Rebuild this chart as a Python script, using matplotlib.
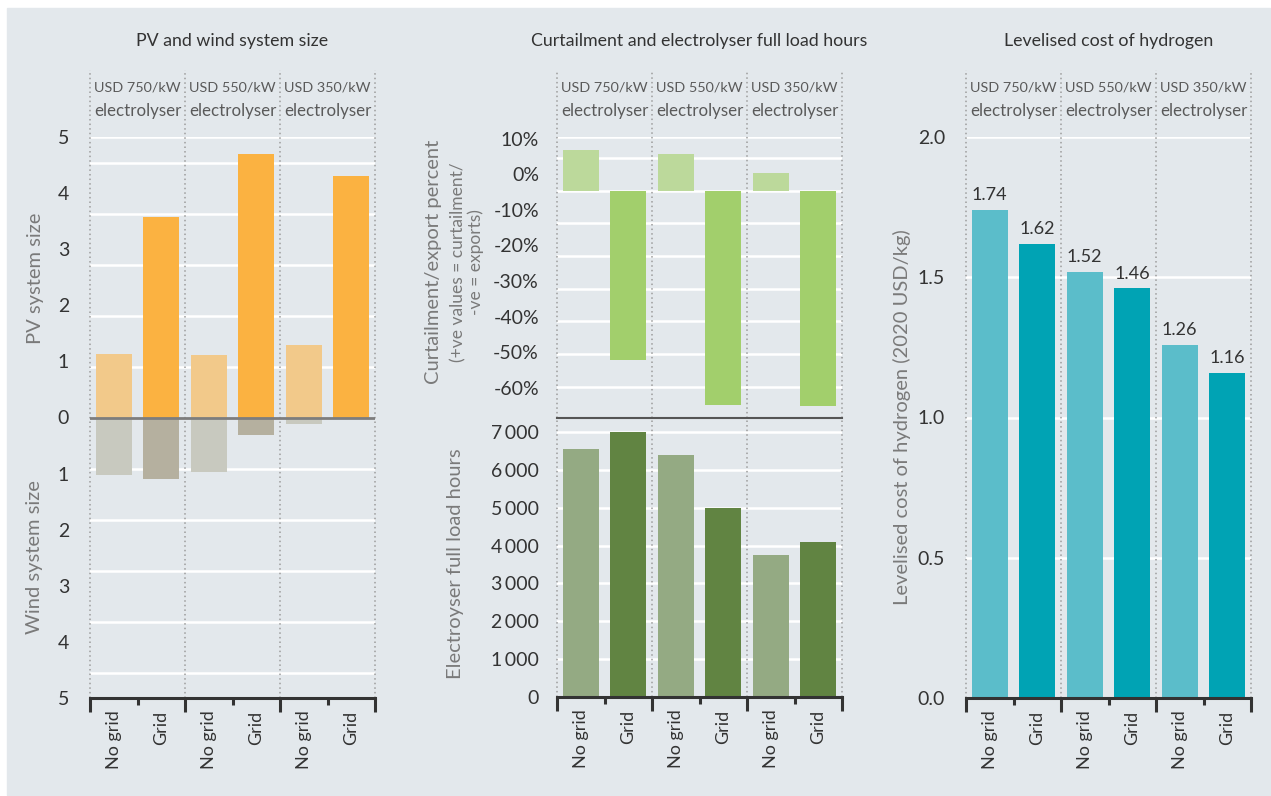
import matplotlib
matplotlib.use("Agg")
import matplotlib.pyplot as plt
import matplotlib.transforms as mtransforms
from matplotlib.patches import Rectangle
import numpy as np

plt.rcParams["font.family"] = ["Lato", "DejaVu Sans"]

# --- data ---
CASES = ["No grid", "Grid", "No grid", "Grid", "No grid", "Grid"]
GROUP_COSTS = ["USD 750/kW", "USD 550/kW", "USD 350/kW"]
GROUP_SUB = "electrolyser"

PV_SIZE = [1.14, 3.58, 1.11, 4.70, 1.29, 4.31]
WIND_SIZE = [1.02, 1.09, 0.98, 0.32, 0.11, 0.0]
CURTAILMENT = [12.5, -51.7, 11.2, -65.6, 5.4, -65.9]   # % (+ curtailment / - exports)
FULL_LOAD_HOURS = [6550, 7000, 6400, 5000, 3750, 4100]
LCOH = [1.74, 1.62, 1.52, 1.46, 1.26, 1.16]

CURT_TICKS = [10, 0, -10, -20, -30, -40, -50, -60]
FLH_TICKS = [0, 1000, 2000, 3000, 4000, 5000, 6000, 7000]
LCOH_TICKS = [0.0, 0.5, 1.0, 1.5, 2.0]

# --- style ---
W, H = 1271, 796
BG = "#e3e8ec"
DARK = "#333333"
GREY_LABEL = "#7a7a7a"
HEAD = "#5a5a5a"
PV_C = ["#f2c98a", "#fbb241"]
WIND_C = ["#c8c9bf", "#b5b09f"]
CURT_C = ["#bcd99b", "#a2cf6c"]
FLH_C = ["#94aa83", "#618442"]
LCOH_C = ["#5bbdca", "#00a3b4"]
BAR_W = 0.76
X = np.arange(len(CASES))
GROUP_BOUNDS = [-0.5, 1.5, 3.5, 5.5]
SLOT_BOUNDS = [0.5, 2.5, 4.5]
TICK_FS = 14
LABEL_FS = 14.5

fig = plt.figure(figsize=(W / 100, H / 100), dpi=100, facecolor="white")
fig.patches.append(Rectangle((7 / W, 1 - 795 / H), 1263 / W, 787 / H,
                             transform=fig.transFigure, color=BG, zorder=-5))


def _axes(x0, y0, x1, y1):
    ax = fig.add_axes([x0 / W, 1 - y1 / H, (x1 - x0) / W, (y1 - y0) / H])
    ax.set_facecolor("none")
    for s in ax.spines.values():
        s.set_visible(False)
    ax.set_xlim(-0.5, 5.5)
    ax.set_xticks([])
    ax.tick_params(axis="y", length=0, labelsize=TICK_FS, labelcolor=DARK, pad=11)
    return ax


def _gridlines(ax, ys):
    for y in ys:
        ax.axhline(y, color="white", lw=1.8, zorder=1)


def _group_lines(ax, extend=0.0):
    for b in GROUP_BOUNDS:
        ax.axvline(b, ymin=0, ymax=1 + extend, color="#9c9c9c", lw=1.1,
                   ls=(0, (1, 2)), clip_on=False, zorder=1)


def _headers(ax, title):
    tr = mtransforms.blended_transform_factory(ax.transData, fig.transFigure)
    for i, cost in enumerate(GROUP_COSTS):
        cx = 2 * i + 0.5
        ax.text(cx, 1 - 87 / H, cost, transform=tr, ha="center", va="center",
                fontsize=10.4, color=HEAD)
        ax.text(cx, 1 - 111 / H, GROUP_SUB, transform=tr, ha="center",
                va="center", fontsize=12.2, color=HEAD)
    ax.text(2.5, 1 - 41 / H, title, transform=tr, ha="center", va="center",
            fontsize=12.8, color=DARK)


def _xaxis(ax):
    ax.spines["bottom"].set_visible(True)
    ax.spines["bottom"].set_color(DARK)
    ax.spines["bottom"].set_linewidth(2.2)
    ax.set_xticks(GROUP_BOUNDS)
    ax.set_xticks(SLOT_BOUNDS, minor=True)
    ax.tick_params(axis="x", which="major", length=10, width=2.2,
                   color=DARK, labelbottom=False)
    ax.tick_params(axis="x", which="minor", length=5, width=2.2, color=DARK)
    sec = ax.secondary_xaxis("bottom")
    sec.set_xticks(X, CASES)
    sec.tick_params(length=0, pad=9, labelsize=13, labelrotation=90,
                    labelcolor=DARK)
    sec.spines["bottom"].set_visible(False)


def _ylabel(x_px, y_px, text, size=LABEL_FS, color=GREY_LABEL):
    fig.text(x_px / W, 1 - y_px / H, text, rotation=90, ha="center",
             va="center", fontsize=size, color=color)


# --- PV and wind system size ---
ax1 = _axes(90, 137, 375, 698)
ax1.set_ylim(-5, 5)
step = 5 / 5.5
_gridlines(ax1, [5] + [s * k * step for k in range(1, 6) for s in (1, -1)])
ax1.bar(X, PV_SIZE, width=BAR_W, color=PV_C * 3, zorder=2)
ax1.bar(X, -np.array(WIND_SIZE), width=BAR_W, color=WIND_C * 3, zorder=2)
ax1.axhline(0, color="#7d7d7d", lw=2, zorder=3)
ax1.set_yticks(range(-5, 6), [str(abs(v)) for v in range(-5, 6)])
ax1.tick_params(axis="y", pad=15)
_group_lines(ax1, 67 / 561)
_xaxis(ax1)
_headers(ax1, "PV and wind system size")
_ylabel(35, 278, "PV system size")
_ylabel(35, 557, "Wind system size")

# --- curtailment (top) and full load hours (bottom) ---
ax2 = _axes(557, 137, 842, 418)
ax2.set_ylim(-69.6, 16.4)
_gridlines(ax2, [16.4] + list(range(10, -61, -10)))
ax2.bar(X, CURTAILMENT, width=BAR_W, color=CURT_C * 3, zorder=2)
# tick labels in the source sit offset from the gridlines
ax2.set_yticks([5.0 + 1.09 * t for t in CURT_TICKS],
               [f"{t}%" for t in CURT_TICKS])
ax2.tick_params(axis="y", pad=13)
ax2.spines["bottom"].set_visible(True)
ax2.spines["bottom"].set_color("#555555")
ax2.spines["bottom"].set_linewidth(1.5)
ax2.spines["bottom"].set_zorder(4)
_group_lines(ax2, 67 / 281)
_headers(ax2, "Curtailment and electrolyser full load hours")

ax3 = _axes(557, 418, 842, 697)
ax3.set_ylim(0, 7369)
_gridlines(ax3, FLH_TICKS[1:])
ax3.bar(X, FULL_LOAD_HOURS, width=BAR_W, color=FLH_C * 3, zorder=2)
ax3.set_yticks(FLH_TICKS, [f"{t:,}".replace(",", "\u2009") for t in FLH_TICKS])
ax3.tick_params(axis="y", pad=13)
_group_lines(ax3)
_xaxis(ax3)

fig.text(433 / W, 1 - 262 / H, "Curtailment/export percent", rotation=90,
         ha="center", va="center", fontsize=LABEL_FS, color=GREY_LABEL)
fig.text(467 / W, 1 - 262 / H, "(+ve values = curtailment/\n-ve = exports)",
         rotation=90, ha="center", va="center", fontsize=12.5,
         color=GREY_LABEL, multialignment="center", linespacing=1.1)
_ylabel(455, 564, "Electroyser full load hours")

# --- levelised cost of hydrogen ---
ax4 = _axes(966, 137, 1251, 698)
ax4.set_ylim(0, 2.0)
_gridlines(ax4, LCOH_TICKS[1:])
bars = ax4.bar(X, LCOH, width=BAR_W, color=LCOH_C * 3, zorder=2)
ax4.bar_label(bars, labels=[f"{v:.2f}" for v in LCOH], padding=5,
              fontsize=13, color=DARK)
ax4.set_yticks(LCOH_TICKS, [f"{t:.1f}" for t in LCOH_TICKS])
ax4.tick_params(axis="y", pad=15)
_group_lines(ax4, 67 / 561)
_xaxis(ax4)
_headers(ax4, "Levelised cost of hydrogen")
_ylabel(902, 417, "Levelised cost of hydrogen (2020 USD/kg)")

fig.savefig("out.png", dpi=100, facecolor="white")
